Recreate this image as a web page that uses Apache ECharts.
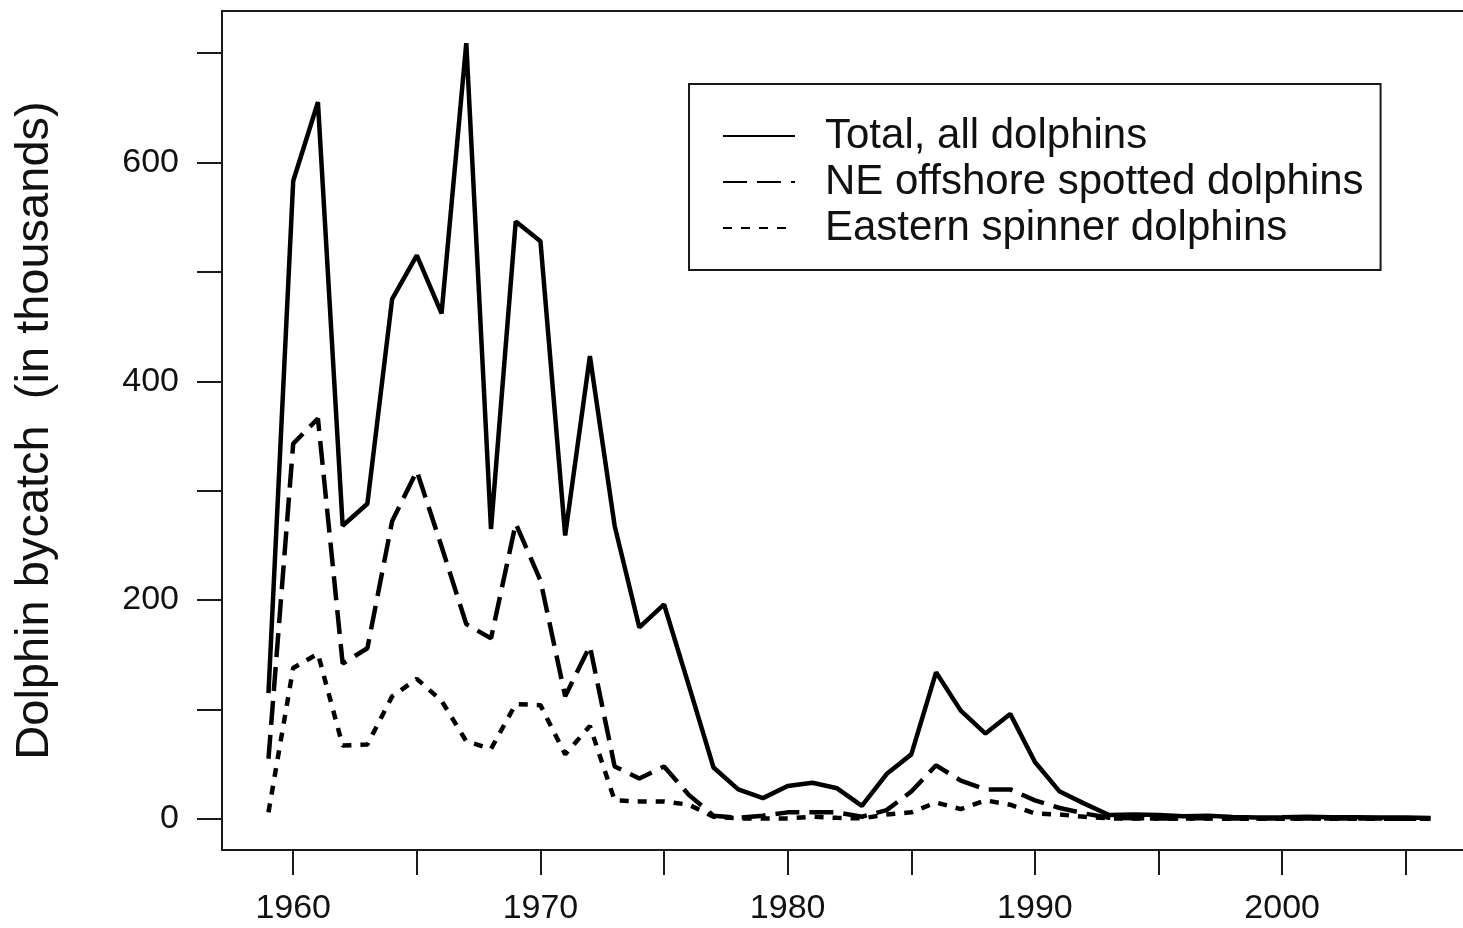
<!DOCTYPE html>
<html>
<head>
<meta charset="utf-8">
<script src="https://cdn.jsdelivr.net/npm/echarts@6/dist/echarts.min.js"></script>
<style>
html,body{margin:0;padding:0;background:#fff;overflow:hidden;}
#chart{width:1490px;height:928px;}
</style>
</head>
<body>
<div id="chart"></div>
<script>
const years = [1959,1960,1961,1962,1963,1964,1965,1966,1967,1968,1969,1970,1971,1972,1973,1974,1975,1976,1977,1978,1979,1980,1981,1982,1983,1984,1985,1986,1987,1988,1989,1990,1991,1992,1993,1994,1995,1996,1997,1998,1999,2000,2001,2002,2003,2004,2005,2006];
const totalAll = [115,583,655,268,288,475,515,462,709,265,546,528,259,423,268,175,196,122,47,27,19,30,33,28,12,41,59,134,99,78,96,52,25,14,3.6,4,3.5,2.5,3,1.8,1.3,1.6,2.1,1.5,1.5,1.4,1.2,0.9];
const neSpotted = [55,343,366,142,156,272,318,249,178,165,270,218,112,158,48,37,48,22,3,1,3,6,6,6,2,8,25,49,35,27,27,17,10,5,1,0.6,0.4,0.5,0.6,0.3,0.3,0.3,0.5,0.3,0.3,0.3,0.2,0.2];
const eSpinner = [6,138,151,67,68,112,128,108,71,64,105,104,59,85,17,16,16,13,2,0.5,0.5,0.5,2,1,0.5,4,6,15,9,17,13,5,4,2,0.5,0.4,0.3,0.3,0.4,0.2,0.2,0.2,0.3,0.2,0.2,0.2,0.1,0.1];
const seriesNames = ['Total, all dolphins','NE offshore spotted dolphins','Eastern spinner dolphins'];
const xTicks = [1960,1965,1970,1975,1980,1985,1990,1995,2000,2005];
const xLabels = [1960,1970,1980,1990,2000];
const yTicks = [0,100,200,300,400,500,600,700];
const yLabels = [0,200,400,600];
const yTitle = 'Dolphin bycatch  (in thousands)';

const FONT = '"Liberation Sans", Arial, Helvetica, sans-serif';
const pairs = arr => years.map((y,i)=>[y,arr[i]]);
const LINE = {color:'#1a1a1a', width:2};

const chart = echarts.init(document.getElementById('chart'), null, {renderer:'canvas'});
chart.setOption({
  animation:false,
  backgroundColor:'#ffffff',
  grid:{left:222, top:11, width:1255, height:839, show:false},
  legend:{
    orient:'vertical', left:689, top:84,
    padding:[29,17,19,33],
    borderColor:'#1a1a1a', borderWidth:2,
    itemWidth:72, itemHeight:20, itemGap:0,
    itemStyle:{opacity:0},
    textStyle:{fontFamily:FONT, fontSize:42, color:'#111', lineHeight:46, padding:[0,0,0,25]},
    data:seriesNames
  },
  xAxis:[{
    type:'value', min:1957.12, max:2007.88, position:'bottom',
    axisLine:{show:true, onZero:false, lineStyle:LINE},
    axisTick:{show:true, length:25, customValues:xTicks, lineStyle:LINE},
    axisLabel:{show:true, customValues:xLabels, margin:42, fontFamily:FONT, fontSize:34, color:'#111', formatter:v=>String(v)},
    splitLine:{show:false}
  },{
    type:'value', min:1957.12, max:2007.88, position:'top',
    axisLine:{show:true, onZero:false, lineStyle:LINE},
    axisTick:{show:false}, axisLabel:{show:false}, splitLine:{show:false}
  }],
  yAxis:{
    type:'value', min:-28.4, max:738.4,
    name:yTitle, nameLocation:'middle', nameGap:163,
    nameTextStyle:{fontFamily:FONT, fontSize:47, color:'#111'},
    axisLine:{show:true, onZero:false, lineStyle:LINE},
    axisTick:{show:true, length:25, customValues:yTicks, lineStyle:LINE},
    axisLabel:{show:true, customValues:yLabels, margin:43, fontFamily:FONT, fontSize:34, color:'#111', formatter:v=>String(v)},
    splitLine:{show:false}
  },
  series:[
    {name:seriesNames[0], type:'line', xAxisIndex:0, data:pairs(totalAll), symbol:'none', lineStyle:{color:'#000', width:4.5, type:'solid'}, itemStyle:{color:'#000'}},
    {name:seriesNames[1], type:'line', xAxisIndex:0, data:pairs(neSpotted), symbol:'none', lineStyle:{color:'#000', width:4.5, type:[24,10]}, itemStyle:{color:'#000'}},
    {name:seriesNames[2], type:'line', xAxisIndex:0, data:pairs(eSpinner), symbol:'none', lineStyle:{color:'#000', width:4.5, type:[9,9]}, itemStyle:{color:'#000'}}
  ]
});
</script>
</body>
</html>
